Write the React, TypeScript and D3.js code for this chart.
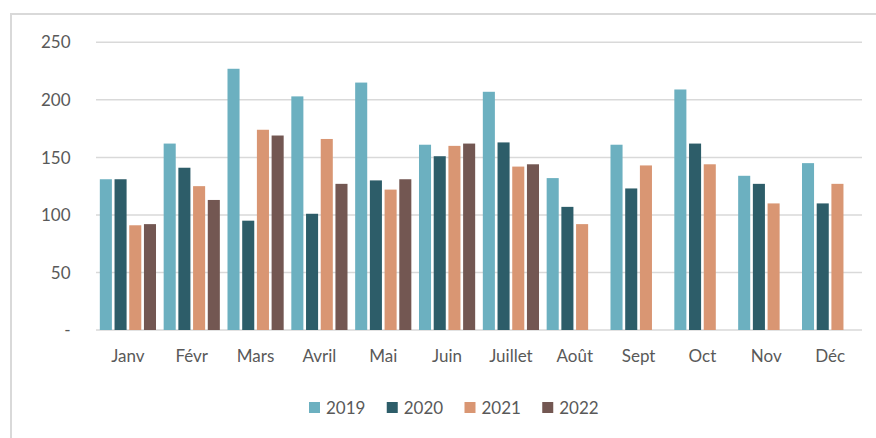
import React from "react";
import * as d3 from "d3";

// monthly values
const months = ["Janv", "Févr", "Mars", "Avril", "Mai", "Juin", "Juillet", "Août", "Sept", "Oct", "Nov", "Déc"];
const years = ["2019", "2020", "2021", "2022"];
const v2019 = [131, 162, 227, 203, 215, 161, 207, 132, 161, 209, 134, 145];
const v2020 = [131, 141, 95, 101, 130, 151, 163, 107, 123, 162, 127, 110];
const v2021 = [91, 125, 174, 166, 122, 160, 142, 92, 143, 144, 110, 127];
const v2022 = [92, 113, 169, 127, 131, 162, 144, null, null, null, null, null];
const yTicks = [0, 50, 100, 150, 200, 250];
const colors = ["#6cb0c0", "#2d5d69", "#d99673", "#735752"];

const series = [v2019, v2020, v2021, v2022];

const W = 876;
const H = 438;
const margin = { left: 96, right: 14, top: 42.3, bottom: 108 };

const App = () => {
  const x0 = d3
    .scaleBand()
    .domain(months)
    .range([margin.left, W - margin.right])
    .paddingInner(0.12)
    .paddingOuter(0.06);
  const x1 = d3.scaleBand().domain(years).range([0, x0.bandwidth()]).paddingInner(0.18);
  const y = d3.scaleLinear().domain([0, 250]).range([H - margin.bottom, margin.top]);

  const font = "Lato, 'Open Sans', sans-serif";
  const legendX = d3.scaleBand().domain(years).range([309, 620]);

  return (
    <svg width={W} height={H} style={{ position: "absolute", left: 0, top: 0 }}>
      <rect x={0} y={0} width={W} height={H} fill="#fff" />
      <rect x={11} y={14} width={W + 50} height={H + 50} fill="none" stroke="#d9d9d9" strokeWidth={2} />

      {/* grid */}
      <g>
        {yTicks.map((t) => (
          <line
            key={t}
            x1={margin.left}
            x2={W - margin.right}
            y1={y(t)}
            y2={y(t)}
            stroke="#d9d9d9"
            strokeWidth={1.5}
          />
        ))}
      </g>

      {/* y labels */}
      <g fontFamily={font} fontSize={17} fill="#595959" textAnchor="end">
        {yTicks.map((t) => (
          <text key={t} x={70.5} y={y(t)} dy="0.36em">
            {t === 0 ? "-" : t}
          </text>
        ))}
      </g>

      {/* bars */}
      <g>
        {months.map((m, i) => (
          <g key={m} transform={`translate(${x0(m)},0)`}>
            {series.map((s, j) =>
              s[i] == null ? null : (
                <rect
                  key={j}
                  x={x1(years[j])}
                  y={y(s[i] as number)}
                  width={x1.bandwidth()}
                  height={y(0) - y(s[i] as number)}
                  fill={colors[j]}
                />
              )
            )}
          </g>
        ))}
      </g>

      {/* x labels */}
      <g fontFamily={font} fontSize={17} fill="#595959" textAnchor="middle">
        {months.map((m) => (
          <text key={m} x={(x0(m) as number) + x0.bandwidth() / 2} y={362}>
            {m}
          </text>
        ))}
      </g>

      {/* legend */}
      <g fontFamily={font} fontSize={17} fill="#595959">
        {years.map((yr, j) => (
          <g key={yr} transform={`translate(${legendX(yr)},0)`}>
            <rect x={0} y={402} width={11} height={11} fill={colors[j]} />
            <text x={17} y={413.5}>
              {yr}
            </text>
          </g>
        ))}
      </g>
    </svg>
  );
};

export default App;
